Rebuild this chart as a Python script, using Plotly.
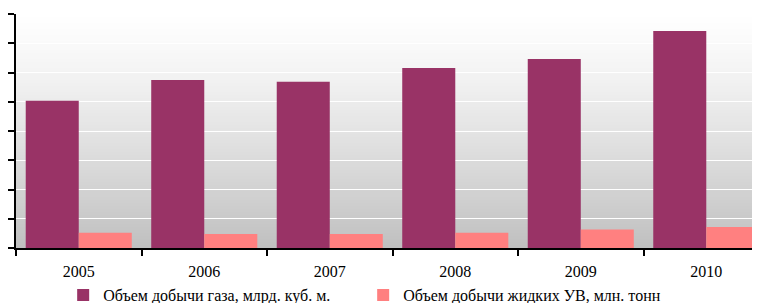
import plotly.graph_objects as go

years = ["2005", "2006", "2007", "2008", "2009", "2010"]
gas = [50.3, 57.4, 56.8, 61.5, 64.6, 74.2]
liquids = [5.2, 4.8, 4.8, 5.2, 6.3, 7.2]
gas_name = "Объем добычи газа, млрд. куб. м."
liq_name = "Объем добычи жидких УВ, млн. тонн"

# page body has an 8px margin, so the figure is drawn 8px smaller
W, H = 752, 295
top, bottom = 6, 240

fig = go.Figure()
fig.add_trace(go.Bar(x=years, y=gas, name=gas_name, marker=dict(color="#993366", line=dict(width=0))))
fig.add_trace(go.Bar(x=years, y=liquids, name=liq_name, marker=dict(color="#FF8080", line=dict(width=0))))

# vertical gradient background (white at top -> silver at bottom)
n = 78
shapes = []
for i in range(n):
    t0 = i / n
    t1 = (i + 1) / n
    tm = (i + 0.5) / n  # 0 top, 1 bottom
    c = int(round(255 - 63 * tm ** 1.2))
    shapes.append(dict(type="rect", xref="paper", yref="paper", x0=0, x1=1,
                       y0=1 - t1, y1=1 - t0, layer="below",
                       fillcolor=f"rgb({c},{c},{c})", line=dict(width=0)))

fig.update_layout(
    width=W, height=H,
    margin=dict(l=8, r=0, t=top, b=H - bottom, autoexpand=False),
    paper_bgcolor="white", plot_bgcolor="white",
    barmode="group", bargap=0.155, bargroupgap=0,
    shapes=shapes,
    font=dict(family="Liberation Serif, Times New Roman, serif", size=16, color="black"),
    showlegend=True,
    legend=dict(orientation="h", x=0.0634, xanchor="left",
                yref="container", y=(H - 287) / H, yanchor="middle",
                entrywidth=255, entrywidthmode="pixels",
                font=dict(size=16), bgcolor="rgba(0,0,0,0)", itemsizing="constant"),
    xaxis=dict(type="category", range=[-0.5, 5.428], showgrid=False,
               showline=True, linecolor="black", linewidth=2,
               ticks="outside", tickson="boundaries", ticklen=6, tickwidth=2, tickcolor="black",
               tickfont=dict(size=16), ticklabelstandoff=8, automargin=False),
    yaxis=dict(range=[0, 80], dtick=10, showgrid=True, gridcolor="white", gridwidth=1,
               showline=True, linecolor="black", linewidth=2, zeroline=False,
               ticks="outside", ticklen=7, tickwidth=2, tickcolor="black",
               showticklabels=False, automargin=False),
)

fig.write_html("out.html")
